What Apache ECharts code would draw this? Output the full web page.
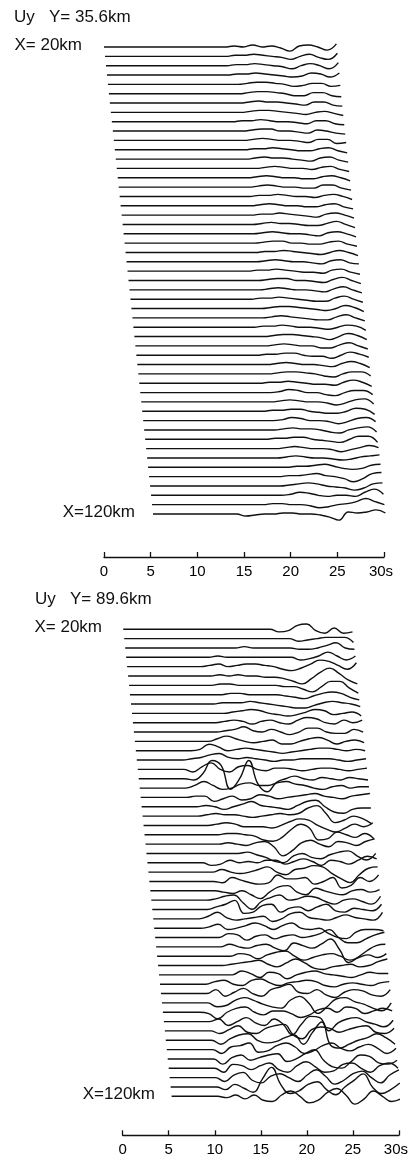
<!DOCTYPE html>
<html>
<head>
<meta charset="utf-8">
<script src="https://cdn.jsdelivr.net/npm/echarts@6/dist/echarts.min.js"></script>
<style>
  html, body { margin: 0; padding: 0; background: #fff; }
  #main { width: 411px; height: 1160px; }
</style>
</head>
<body>
<div id="main"></div>
<script>
// station distances (km), one trace each, top to bottom
var distances = [20,22,24,26,28,30,32,34,36,38,40,42,44,46,48,50,52,54,56,58,60,
  62,64,66,68,70,72,74,76,78,80,82,84,86,88,90,92,94,96,98,100,
  102,104,106,108,110,112,114,116,118,120];
var timeTicks = [0, 5, 10, 15, 20, 25, 30];
var moveout = 0.0525;   // s per km, trace start delay
var sampleStep = 1;     // s between samples

// Uy, Y = 35.6 km  (amplitude in tenths of trace spacing, 1 s samples from trace start)
var tracesY356 = [
  [0,0,0,0,0,0,0,0,0,0,0,0, 0,0,1,0,2,0,1,-1,-4,1,2,0,-3,3],
  [0,0,0,0,0,0,0,0,0,0,0,0, 0,0,1,1,2,1,0,-1,-3,0,2,-1,-3,3],
  [0,0,0,0,0,0,0,0,0,0,0,0, 0,0,1,1,2,1,0,-1,-3,0,2,0,-3,3],
  [0,0,0,0,0,0,0,0,0,0,0,0, 0,0,1,1,2,1,0,-1,-2,-1,2,1,-2,2],
  [0,0,0,0,0,0,0,0,0,0,0,0, 0,0,0,1,2,2,1,0,-2,-1,1,1,-2,-1],
  [0,0,0,0,0,0,0,0,0,0,0,0, 0,0,0,1,2,2,1,0,-2,-2,1,1,-2,-3],
  [0,0,0,0,0,0,0,0,0,0,0,0, 0,0,0,1,2,1,1,0,-1,-2,1,1,-2,-3],
  [0,0,0,0,0,0,0,0,0,0,0,0, 0,0,0,1,2,2,1,0,-1,-2,0,1,-1,-3],
  [0,0,0,0,0,0,0,0,0,0,0,0, 0,0,1,1,2,1,0,0,-1,-2,1,1,-2,-3],
  [0,0,0,0,0,0,0,0,0,0,0,0, 0,0,0,1,2,2,0,0,-1,-2,1,0,-2,-3],
  [0,0,0,0,0,0,0,0,0,0,0,0, 0,0,0,1,2,1,0,0,-1,-2,1,1,-3,-2],
  [0,0,0,0,0,0,0,0,0,0,0,0, 0,0,0,1,1,2,1,0,-1,-1,1,2,-1,-3],
  [0,0,0,0,0,0,0,0,0,0,0,0, 0,0,0,1,2,1,1,0,-1,-2,1,2,-1,-3],
  [0,0,0,0,0,0,0,0,0,0,0,0, 0,0,0,0,1,2,1,0,0,-1,1,2,-1,-3],
  [0,0,0,0,0,0,0,0,0,0,0,0, 0,0,0,1,2,1,0,0,-1,-1,1,2,0,-3],
  [0,0,0,0,0,0,0,0,0,0,0,0, 0,0,0,1,2,1,0,0,-1,-1,2,2,-1,-3],
  [0,0,0,0,0,0,0,0,0,0,0,0, 0,0,0,1,1,2,1,0,0,-1,1,2,0,-3],
  [0,0,0,0,0,0,0,0,0,0,0,0, 0,0,0,1,2,1,0,0,-1,-1,1,2,-1,-3],
  [0,0,0,0,0,0,0,0,0,0,0,0, 0,0,0,1,1,2,1,0,-1,-2,1,2,0,-3],
  [0,0,0,0,0,0,0,0,0,0,0,0, 0,0,0,1,2,1,1,0,-1,-1,1,3,0,-3],
  [0,0,0,0,0,0,0,0,0,0,0,0, 0,0,0,1,2,1,0,0,-1,-2,1,2,0,-3],
  [0,0,0,0,0,0,0,0,0,0,0,0, 0,0,0,1,2,2,0,0,-1,-1,1,2,-1,-3],
  [0,0,0,0,0,0,0,0,0,0,0,0, 0,0,0,1,1,2,1,0,-1,-2,0,2,0,-3],
  [0,0,0,0,0,0,0,0,0,0,0,0, 0,0,0,1,2,1,0,0,-1,-2,1,2,-1,-2],
  [0,0,0,0,0,0,0,0,0,0,0,0, 0,0,1,1,2,1,0,-1,-1,-2,1,2,-1,-3],
  [0,0,0,0,0,0,0,0,0,0,0,0, 0,0,0,1,2,2,0,0,-1,-2,1,3,0,-3],
  [0,0,0,0,0,0,0,0,0,0,0,0, 0,0,0,1,2,1,0,0,-1,-2,1,3,0,-3],
  [0,0,0,0,0,0,0,0,0,0,0,0, 0,0,1,1,2,1,0,-1,-2,-2,1,3,0,-3],
  [0,0,0,0,0,0,0,0,0,0,0,0, 0,0,0,1,2,2,1,0,-1,-2,0,3,1,-3],
  [0,0,0,0,0,0,0,0,0,0,0,0, 0,0,0,1,2,1,0,-1,-2,-2,1,3,0,-3],
  [0,0,0,0,0,0,0,0,0,0,0,0, 0,0,1,1,2,1,0,0,-1,-2,0,2,1,-3],
  [0,0,0,0,0,0,0,0,0,0,0,0, 0,0,0,1,2,2,1,0,-1,-3,0,3,1,-3],
  [0,0,0,0,0,0,0,0,0,0,0,0, 0,0,0,1,2,1,0,0,-2,-2,1,3,0,-3],
  [0,0,0,0,0,0,0,0,0,0,0,0, 0,0,1,1,2,2,0,-1,-1,-3,0,3,1,-2],
  [0,0,0,0,0,0,0,0,0,0,0,0, 0,0,0,1,2,1,0,0,-1,-2,1,3,1,-3],
  [0,0,0,0,0,0,0,0,0,0,0,0, 0,0,0,1,2,2,1,0,-2,-3,0,2,2,-2],
  [0,0,0,0,0,0,0,0,0,0,0,0, 0,0,1,1,2,1,0,-1,-1,-2,1,3,1,-3],
  [0,0,0,0,0,0,0,0,0,0,0,0, 0,0,0,1,3,2,0,0,-2,-3,0,2,2,-2],
  [0,0,0,0,0,0,0,0,0,0,0,0, 0,0,0,1,2,1,0,0,-1,-3,-1,2,3,-2],
  [0,0,0,0,0,0,0,0,0,0,0,0, 0,0,1,1,2,2,0,-1,-2,-2,0,3,2,-3],
  [0,0,0,0,0,0,0,0,0,0,0,0, 0,0,0,1,3,2,0,0,-1,-3,-1,2,3,-1],
  [0,0,0,0,0,0,0,0,0,0,0,0, 0,0,0,1,2,1,1,0,-2,-3,0,2,3,-2],
  [0,0,0,0,0,0,0,0,0,0,0,0, 0,0,1,1,2,2,0,-1,-2,-3,0,3,3,-3],
  [0,0,0,0,0,0,0,0,0,0,0,0, 0,0,0,1,2,1,0,0,-1,-3,-1,1,3,1],
  [0,0,0,0,0,0,0,0,0,0,0,0, 0,0,0,1,2,1,0,0,-1,-2,-1,1,2,3],
  [0,0,0,0,0,0,0,0,0,0,0,0, 0,0,0,0,1,1,2,3,1,-1,-2,-1,2,3],
  [0,0,0,0,0,0,0,0,0,0,0,0, 0,0,0,1,1,2,3,1,0,-2,-5,-2,3,4],
  [0,0,0,0,0,0,0,0,0,0,0,0, 0,0,0,1,2,3,2,0,-1,-2,-4,-2,2,3],
  [0,0,0,0,0,0,0,0,0,0,0,0, 0,0,0,1,3,2,0,-1,0,0,-1,3,6,1],
  [0,0,0,0,0,0,0,0,0,0,0,0, 0,1,1,0,0,-1,-3,-2,0,1,3,6,3,0],
  [0,0,0,0,0,0,0,0,0,0,-2,-1, 0,0,1,1,0,0,-1,-3,-6,2,1,2,4,1]
];

// Uy, Y = 89.6 km
var tracesY896 = [
  [0,0,0,0,0,0,0,0,0,0,0,0,0,0,0,0, 0,-2,-1,3,4,-1,-3,1,-3,-2],
  [0,0,0,0,0,0,0,0,0,0,0,0,0,0,0,0,0,0, 0,-2,-1,0,1,1,1,-3],
  [0,0,0,0,0,0,0,0,0,0,0,0,0, 1,0,0,0,0,0,-1,-1,0,2,4,0,-1],
  [0,0,0,0,0,0,0,0,0,0, 1,0,0,0,0,0,0,0,0,-2,-1,1,4,1,-2,1],
  [0,0,0,0,0,0,0,0,0, 1,2,0,1,2,2,1,0,-2,-3,-1,2,5,4,1,-2,3],
  [0,0,0,0,0,0,0,0,0,0, 1,0,1,0,0,-1,-1,-2,-4,-6,-2,3,6,2,-3,-6],
  [0,0,0,0,0,0,0,0,0,0, 1,1,0,0,0,0,0,-1,-1,-3,-5,-1,3,3,-2,-6],
  [0,0,0,0,0,0,0,0,0,0,0, 1,1,0,0,0,0,-1,-2,-3,-1,1,2,1,-2,-4],
  [0,0,0,0,0,0,0,0,0,0, 1,1,1,2,1,0,-1,-2,-3,-3,-1,1,2,1,0,-2],
  [0,0,0,0,0,0,0,0,0,0,0, 1,2,3,2,0,-1,-2,-1,1,3,2,-1,0,1,-2],
  [0,0,0,0,0,0,0,0,0,0, 1,2,1,-1,1,2,0,-1,2,4,3,0,-1,2,0,2],
  [0,0,0,0,0,0,0,0,0,0, 1,2,4,1,0,2,0,-2,0,3,3,0,-1,-1,2,0],
  [0,0,0,0,0,0,0,0,0, 2,4,2,0,-1,0,1,-2,-2,0,2,3,1,-2,0,1,-1],
  [0,0,0,0,0,0,0, 1,5,3,0,1,2,1,0,-1,-2,-1,0,1,2,2,1,0,1,0],
  [0,0,0,0,0,0, 1,2,4,5,2,1,2,1,0,-1,0,0,1,1,1,1,0,-1,0,1],
  [0,0,0,0,0,0, -2,2,5,0,-2,2,3,0,-1,1,1,0,-1,0,1,1,0,-1,0,1],
  [0,0,0,0,0,0, -1,4,14,10,-8,0,14,-4,-10,-3,0,2,0,-1,1,0,-1,1,0,-1],
  [0,0,0,0,0,0, 2,5,2,-1,0,3,4,2,2,4,5,3,2,0,-1,1,2,0,1,1],
  [0,0,0,0,0,0, 1,1,-3,-1,1,-2,-1,2,1,-1,0,1,2,3,1,0,-1,1,2,3],
  [0,0,0,0,0,0,0, 1,0,-2,0,2,4,1,0,-1,-2,1,4,5,0,-4,-5,-2,-1,-1],
  [0,0,0,0,0,0,0, 1,2,1,1,0,-1,0,1,2,1,2,6,8,2,-5,-3,0,-2,-6],
  [0,0,0,0,0,0,0,0, 1,2,1,-1,-1,-1,-2,0,3,5,4,0,-3,-5,-2,1,-1,2],
  [0,0,0,0,0,0,0,0,0, 1,1,0,-1,-4,-5,-2,4,8,5,-4,-3,2,0,-2,1,-3],
  [0,0,0,0,0,0,0,0,0, 1,0,-1,1,2,-2,-9,-5,1,3,0,-2,2,1,-1,2,4],
  [0,0,0,0,0,0,0,0,0,0,0, 1,-1,-3,-6,-7,-2,0,-3,-4,-1,1,2,-2,-5,0],
  [0,0,0,0,0,0,0, -2,-1,2,0,1,0,2,2,-1,1,3,1,-2,2,1,-1,2,5,3],
  [0,0,0,0,0,0,0,0, 2,0,-1,0,2,4,0,-2,2,3,5,4,-1,-5,-8,-2,3,4],
  [0,0,0,0,0,0,0,0, -1,3,1,-1,-2,-1,5,2,2,3,-2,0,3,-5,-3,3,0,5],
  [0,0,0,0,0,0,0,0, -1,-2,0,-3,-6,-1,3,4,-1,-3,2,0,-2,-3,0,1,-1,1],
  [0,0,0,0,0,0,0, 1,3,4,-2,-7,-1,2,4,0,1,3,2,-1,-3,0,1,-1,-3,3],
  [0,0,0,0,0,0,0, 2,4,7,-3,-2,3,4,-2,1,2,-1,2,4,-1,-2,1,0,-1,4],
  [0,0,0,0,0,0, 2,5,1,-1,0,1,2,-2,0,4,5,1,0,-1,1,3,1,0,-1,5],
  [0,0,0,0,0,0, 1,3,-1,0,2,4,2,-1,2,4,0,-1,0,-4,-7,-8,-3,-1,-1,-2],
  [0,0,0,0,0,0,0,0, 3,2,-2,1,2,-1,1,2,0,1,3,6,0,-4,-4,-1,2,4],
  [0,0,0,0,0,0,0,0, 2,0,-1,1,2,-1,-3,3,1,-1,2,6,-2,-12,-8,-3,1,2],
  [0,0,0,0,0,0,0,0,0, 2,1,-2,1,3,4,0,-3,-1,1,2,0,-3,-1,1,-1,2],
  [0,0,0,0,0,0,0,0, 1,2,3,4,1,-1,2,5,2,-2,-3,-1,0,1,-1,0,3,5],
  [0,0,0,0,0,0,0,0,0, 3,1,-2,2,1,-3,0,2,3,1,0,-1,-2,0,2,1,1],
  [0,0,0,0,0,0, 2,3,0,-1,3,4,1,-1,1,2,3,2,-1,-2,0,1,0,-1,1,2],
  [0,0,0,0,0,0, 3,-2,1,4,0,-2,3,5,7,1,0,3,-1,-3,1,3,2,-1,-2,3],
  [0,0,0,0,0,0, -3,-2,2,4,2,-1,-3,-4,2,5,0,-8,-3,3,4,1,-1,-4,-6,0],
  [0,0,0,0,0, -1,-5,0,3,4,0,-2,1,1,-1,-4,-2,2,3,0,4,3,-1,1,3,1],
  [0,0,0,0,0,0, 2,-3,0,3,-1,-3,2,-2,-10,-2,4,3,-7,-1,2,3,0,-2,-4,1],
  [0,0,0,0,0,0, -2,1,4,-1,-2,2,4,5,-3,-6,1,3,2,-1,1,3,4,-1,-2,2],
  [0,0,0,0,0,0, -3,1,4,5,0,-2,-1,2,4,-3,6,14,-4,-6,-3,0,2,5,2,-3],
  [0,0,0,0,0,0, -3,2,3,5,-2,-1,3,5,2,-3,-1,3,5,1,-1,2,4,1,-3,1],
  [0,0,0,0,0,0, -4,1,3,-1,1,3,4,-2,0,4,7,-1,-6,-7,-2,3,2,-3,-4,-1],
  [0,0,0,0,0,0, -3,3,2,-1,2,4,-1,-3,2,5,1,-3,-2,3,4,0,-3,2,4,0],
  [0,0,0,0,0,0, -3,2,4,-2,-4,1,3,0,-3,2,6,1,-5,-2,3,5,0,-4,2,6],
  [0,0,0,0,0,0, -2,2,-1,-4,6,15,2,-5,-3,2,4,-2,-6,0,5,10,0,-5,-2,3],
  [0,0,0,0,0, 0,-1,1,-2,1,-3,-4,1,4,0,-5,-3,3,6,1,-6,-2,4,0,-4,-2]
];

var panels = [
  { traces: tracesY356, title: 'Uy   Y= 35.6km', left: 104, top: 47, delay: 0, axisGap: 43, gain: 1.1, textLeft: 14, labelRight: [82, 135] },
  { traces: tracesY896, title: 'Uy   Y= 89.6km', left: 122.7, top: 629.3, delay: 0.06, axisGap: 39, gain: 1.4, textLeft: 35, labelRight: [102, 155] }
];
var spacing = 9.34;
var plotWidth = 280;
var font = '"Liberation Sans", Arial, Helvetica, sans-serif';

var chartDom = document.getElementById('main');
var myChart = echarts.init(chartDom, null, { renderer: 'canvas' });

var grids = [], xAxes = [], yAxes = [], series = [], texts = [];

panels.forEach(function (p, pi) {
  var h = spacing * (distances.length - 1);
  grids.push({ left: p.left, top: p.top, width: plotWidth, height: h });
  xAxes.push({
    type: 'value', gridIndex: pi, min: 0, max: 30, interval: 5,
    position: 'bottom', offset: p.axisGap,
    axisLine: { onZero: false, lineStyle: { color: '#111', width: 1.3 } },
    axisTick: { inside: true, length: 5, lineStyle: { color: '#111', width: 1.3 } },
    splitLine: { show: false },
    axisLabel: {
      margin: 7, color: '#000', fontSize: 15, fontFamily: font,
      formatter: function (v) { return v === 30 ? '{s|30s}' : String(v); },
      rich: { s: { fontSize: 15, fontFamily: font, color: '#000', padding: [0, 6, 0, 0] } }
    }
  });
  yAxes.push({ type: 'value', gridIndex: pi, min: 0, max: distances.length - 1, inverse: true, show: false });

  p.traces.forEach(function (amps, i) {
    var t0 = p.delay + (distances[i] - distances[0]) * moveout;
    series.push({
      type: 'line', xAxisIndex: pi, yAxisIndex: pi,
      data: amps.map(function (a, k) { return [t0 + k * sampleStep * 0.996, i - p.gain * a / 10]; }),
      symbol: 'none', smooth: 0.45, clip: false, silent: true,
      lineStyle: { color: '#111', width: 1.4 }
    });
  });

  texts.push({ type: 'text', left: p.textLeft, top: p.top - 38,
    style: { text: p.title, font: '17px ' + font, fill: '#111' } });
  texts.push({ type: 'text', right: 411 - p.labelRight[0], top: p.top - 10,
    style: { text: 'X= 20km', font: '17px ' + font, fill: '#111' } });
  texts.push({ type: 'text', right: 411 - p.labelRight[1], top: p.top + h - 10,
    style: { text: 'X=120km', font: '17px ' + font, fill: '#111' } });
});

var option = {
  animation: false,
  backgroundColor: '#fff',
  grid: grids,
  xAxis: xAxes,
  yAxis: yAxes,
  series: series,
  graphic: texts
};
myChart.setOption(option);
</script>
</body>
</html>
